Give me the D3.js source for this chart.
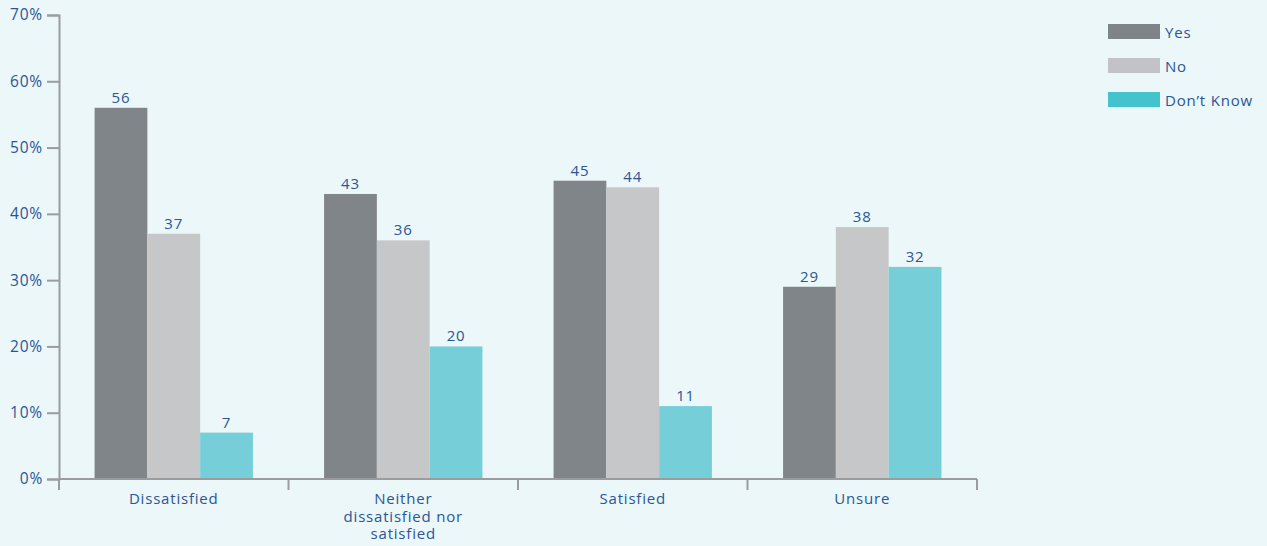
<!DOCTYPE html>
<html>
<head>
<meta charset="utf-8">
<script src="https://cdn.jsdelivr.net/npm/d3@7"></script>
<style>
  html, body { margin: 0; padding: 0; background: #ebf7f8; }
  svg { display: block; }
  text { font-family: "Open Sans", "Noto Sans", sans-serif; fill: #2c5597; letter-spacing: 0.8px; }
</style>
</head>
<body>
<svg id="chart" width="1267" height="546"></svg>
<script>
// Survey responses by satisfaction level (percent)
const categories = ["Dissatisfied", "Neither dissatisfied nor satisfied", "Satisfied", "Unsure"];
const categoryLines = [["Dissatisfied"], ["Neither", "dissatisfied nor", "satisfied"], ["Satisfied"], ["Unsure"]];
const seriesNames = ["Yes", "No", "Don\u2019t Know"];
const yesValues = [56, 43, 45, 29];
const noValues = [37, 36, 44, 38];
const dontKnowValues = [7, 20, 11, 32];
const yTicks = [0, 10, 20, 30, 40, 50, 60, 70];

const seriesValues = [yesValues, noValues, dontKnowValues];
const barColors = ["#808589", "#c6c7c9", "#76cfd8"];
const legendColors = ["#7f8488", "#c2c3c6", "#45c3cd"];

const svg = d3.select("#chart");
const plotLeft = 59, plotRight = 977, plotTop = 15, plotBottom = 479;

const x0 = d3.scaleBand().domain(categories).range([plotLeft, plotRight])
  .paddingInner(0.31).paddingOuter(0.155);
const x1 = d3.scaleBand().domain(seriesNames).range([0, x0.bandwidth()]);
const y = d3.scaleLinear().domain([0, 70]).range([plotBottom, plotTop]);

const axisColor = "#9a9c9e";

// Bars
const groups = svg.append("g").selectAll("g")
  .data(categories)
  .join("g")
  .attr("transform", d => `translate(${x0(d)},0)`);

const cells = (c, i) => seriesNames.map((s, j) => ({ s, j, v: seriesValues[j][i] }));

groups.selectAll("rect")
  .data(cells)
  .join("rect")
  .attr("x", d => x1(d.s))
  .attr("width", x1.bandwidth())
  .attr("y", d => y(d.v))
  .attr("height", d => y(0) - y(d.v))
  .attr("fill", d => barColors[d.j]);

groups.selectAll("text.val")
  .data(cells)
  .join("text")
  .attr("class", "val")
  .attr("x", d => x1(d.s) + x1.bandwidth() / 2)
  .attr("y", d => y(d.v) - 5)
  .attr("text-anchor", "middle")
  .style("font-size", "15px")
  .text(d => d.v);

// Y axis
const yAxis = svg.append("g")
  .attr("transform", `translate(${plotLeft},0)`)
  .call(d3.axisLeft(y).tickValues(yTicks).tickFormat(d => d + "%").tickSize(12).tickPadding(4));
yAxis.select(".domain").attr("stroke", axisColor).attr("stroke-width", 2);
yAxis.selectAll(".tick line").attr("stroke", axisColor).attr("stroke-width", 2);
yAxis.selectAll(".tick text").style("font-size", "15.5px").attr("fill", "#2c5597");

// X axis with ticks at band boundaries
const xAxis = svg.append("g").attr("transform", `translate(0,${plotBottom})`);
xAxis.append("line")
  .attr("x1", plotLeft).attr("x2", plotRight)
  .attr("stroke", axisColor).attr("stroke-width", 2);
const step = x0.step();
const boundaries = d3.range(categories.length + 1).map(i => plotLeft + i * step);
xAxis.selectAll("line.tick")
  .data(boundaries)
  .join("line")
  .attr("class", "tick")
  .attr("x1", d => d).attr("x2", d => d)
  .attr("y1", 0).attr("y2", 11)
  .attr("stroke", axisColor).attr("stroke-width", 2);

xAxis.selectAll("text.cat")
  .data(categories)
  .join("text")
  .attr("class", "cat")
  .attr("x", d => x0(d) + x0.bandwidth() / 2)
  .attr("y", 25)
  .attr("text-anchor", "middle")
  .style("font-size", "15px")
  .each(function(d, i) {
    const t = d3.select(this);
    categoryLines[i].forEach((line, k) => {
      t.append("tspan")
        .attr("x", x0(d) + x0.bandwidth() / 2)
        .attr("dy", k === 0 ? 0 : 17.5)
        .text(line);
    });
  });

// Legend
const legend = svg.append("g").attr("transform", "translate(1108,24)");
const lg = legend.selectAll("g")
  .data(seriesNames)
  .join("g")
  .attr("transform", (d, i) => `translate(0,${i * 34})`);
lg.append("rect")
  .attr("width", 52).attr("height", 15)
  .attr("fill", (d, i) => legendColors[i]);
lg.append("text")
  .attr("x", 57).attr("y", 14)
  .style("font-size", "15px")
  .text(d => d);
</script>
</body>
</html>
